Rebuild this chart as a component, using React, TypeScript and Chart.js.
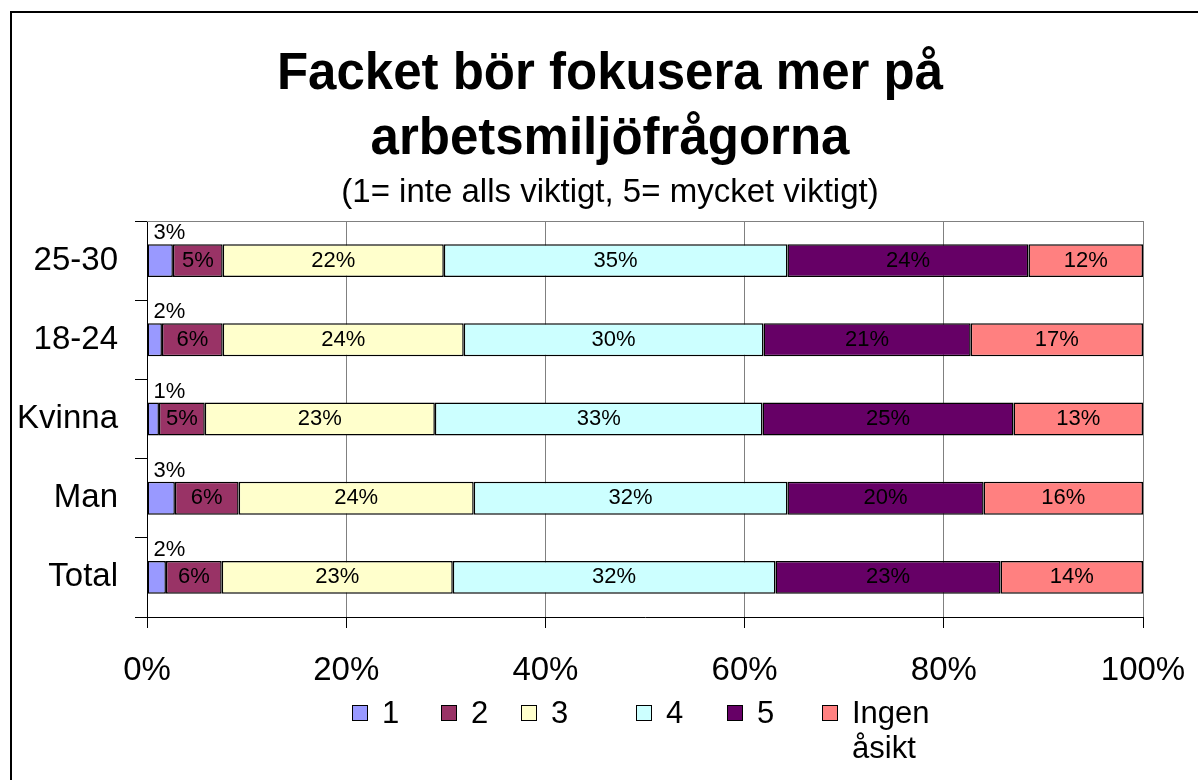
import React, { useEffect, useRef } from 'react';
import { Chart, registerables } from 'chart.js';

Chart.register(...registerables);

const FONT = 'Arial, "Liberation Sans", sans-serif';

const categories = ['25-30', '18-24', 'Kvinna', 'Man', 'Total'];
const seriesNames = ['1', '2', '3', '4', '5', 'Ingen åsikt'];
const series1 = [2.6, 1.5, 1.2, 2.8, 1.9];
const series2 = [5.0, 6.1, 4.6, 6.4, 5.6];
const series3 = [22.2, 24.2, 23.1, 23.6, 23.2];
const series4 = [34.5, 30.1, 32.9, 31.5, 32.4];
const series5 = [24.2, 20.8, 25.2, 19.7, 22.6];
const seriesIngen = [11.5, 17.3, 13.0, 16.0, 14.3];
const seriesColors = ['#9999FF', '#993366', '#FFFFCC', '#CCFFFF', '#660066', '#FF8080'];
const xTickStep = 20;
const titleLines = ['Facket bör fokusera mer på', 'arbetsmiljöfrågorna'];
const subtitleText = '(1= inte alls viktigt, 5= mycket viktigt)';
const legendBoxX = [352, 441, 521, 636, 727, 822];

const seriesValues = [series1, series2, series3, series4, series5, seriesIngen];

const framePlugin = {
  id: 'frame',
  beforeDraw(chart: any) {
    const ctx = chart.ctx;
    ctx.save();
    ctx.fillStyle = '#fff';
    ctx.fillRect(0, 0, chart.width, chart.height);
    ctx.fillStyle = '#000';
    ctx.fillRect(10, 11, chart.width, 2);
    ctx.fillRect(10, 11, 2, chart.height);
    ctx.textAlign = 'center';
    ctx.textBaseline = 'middle';
    ctx.font = `bold 51px ${FONT}`;
    ctx.fillText(titleLines[0], 610, 75);
    ctx.fillText(titleLines[1], 610, 140);
    ctx.font = `33px ${FONT}`;
    ctx.fillText(subtitleText, 610, 193);
    ctx.restore();
  },
  beforeDatasetsDraw(chart: any) {
    const { ctx, chartArea } = chart;
    ctx.save();
    ctx.strokeStyle = '#808080';
    ctx.lineWidth = 1;
    ctx.beginPath();
    ctx.moveTo(chartArea.left, chartArea.top + 0.5);
    ctx.lineTo(chartArea.right, chartArea.top + 0.5);
    ctx.stroke();
    ctx.restore();
  },
};

const labelPlugin = {
  id: 'segLabels',
  afterDatasetsDraw(chart: any) {
    const ctx = chart.ctx;
    ctx.save();
    ctx.font = `22px ${FONT}`;
    ctx.fillStyle = '#000';
    ctx.textBaseline = 'middle';
    chart.data.datasets.forEach((ds: any, di: number) => {
      const meta = chart.getDatasetMeta(di);
      meta.data.forEach((el: any, j: number) => {
        const v = ds.data[j] as number;
        const txt = Math.round(v) + '%';
        if (di === 0) {
          ctx.textAlign = 'left';
          ctx.fillText(txt, el.base + 6, el.y - el.height / 2 - 11);
        } else {
          ctx.textAlign = 'center';
          ctx.fillText(txt, (el.x + el.base) / 2, el.y);
        }
      });
    });
    ctx.restore();
  },
};

const legendPlugin = {
  id: 'customLegend',
  afterDraw(chart: any) {
    const ctx = chart.ctx;
    ctx.save();
    ctx.font = `31px ${FONT}`;
    ctx.textBaseline = 'middle';
    ctx.textAlign = 'left';
    seriesNames.forEach((name, i) => {
      const x = legendBoxX[i];
      ctx.fillStyle = seriesColors[i];
      ctx.fillRect(x, 705, 16, 16);
      ctx.strokeStyle = '#000';
      ctx.lineWidth = 1;
      ctx.strokeRect(x + 0.5, 705.5, 15, 15);
      ctx.fillStyle = '#000';
      name.split(' ').forEach((line, j) => {
        ctx.fillText(line, x + 30, 714 + j * 35);
      });
    });
    ctx.restore();
  },
};

export default function App() {
  const ref = useRef<HTMLCanvasElement>(null);

  useEffect(() => {
    const canvas = ref.current;
    if (!canvas) return;
    Chart.defaults.font.family = FONT;
    Chart.defaults.color = '#000';
    const datasets = seriesValues.map((vals, i) => ({
      label: seriesNames[i],
      data: vals,
      backgroundColor: seriesColors[i],
      borderColor: '#000',
      borderWidth: 1.5,
      borderSkipped: false,
      barPercentage: 0.415,
      categoryPercentage: 1,
    }));
    const chart = new Chart(canvas, {
      type: 'bar',
      data: { labels: categories, datasets },
      options: {
        indexAxis: 'y',
        animation: false,
        responsive: false,
        layout: { padding: { top: 221, left: 0, right: 55, bottom: 93 } },
        plugins: {
          legend: { display: false },
          tooltip: { enabled: false },
          title: { display: false },
        },
        scales: {
          x: {
            type: 'linear',
            stacked: true,
            min: 0,
            max: 100,
            ticks: {
              stepSize: xTickStep,
              callback: (v: any) => v + '%',
              font: { size: 33, family: FONT },
              color: '#000',
              padding: 23,
            },
            grid: {
              color: (c: any) => (c.tick && c.tick.value === 0 ? 'rgba(0,0,0,0)' : '#808080'),
              tickColor: '#000',
              tickLength: 11,
              lineWidth: 1,
            },
            border: { color: '#000', width: 1 },
            afterFit: (s: any) => {
              s.height = 70;
              s.paddingLeft = 0;
              s.paddingRight = 0;
            },
          },
          y: {
            type: 'category',
            stacked: true,
            ticks: { font: { size: 33, family: FONT }, color: '#000', padding: 17 },
            grid: { drawOnChartArea: false, tickColor: '#000', color: '#000', tickLength: 12 },
            border: { color: '#000', width: 1 },
            afterFit: (s: any) => {
              s.width = 147;
              s.paddingTop = 0;
              s.paddingBottom = 0;
            },
          },
        },
      } as any,
      plugins: [framePlugin, labelPlugin, legendPlugin],
    });
    return () => chart.destroy();
  }, []);

  return (
    <div style={{ position: 'fixed', left: 0, top: 0, width: 1198, height: 780, background: '#fff' }}>
      <canvas ref={ref} width={1198} height={780} style={{ display: 'block' }} />
    </div>
  );
}
